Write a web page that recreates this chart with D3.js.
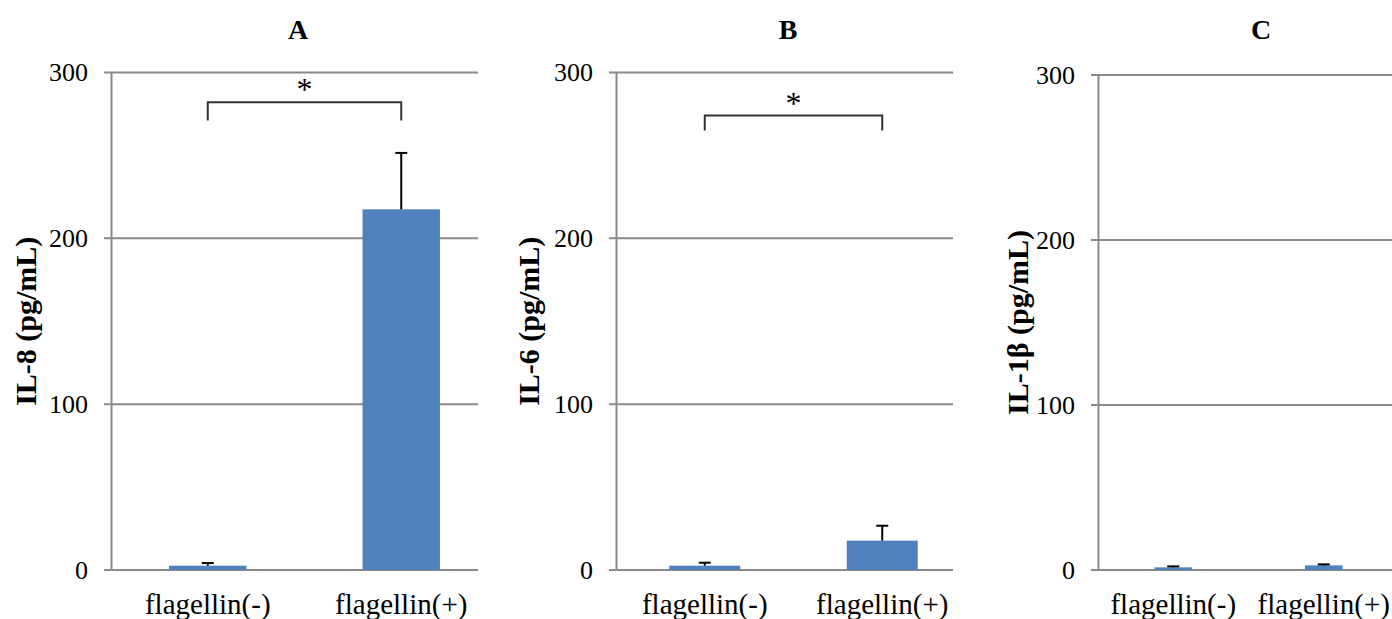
<!DOCTYPE html>
<html>
<head>
<meta charset="utf-8">
<script src="https://cdn.jsdelivr.net/npm/d3@7"></script>
<style>
  body { margin: 0; background: #fff; }
  svg text { font-family: "Times New Roman", "Liberation Serif", serif; fill: #000; }
</style>
</head>
<body>
<svg id="chart" width="1392" height="619"></svg>
<script>
// data
const categories = ["flagellin(-)", "flagellin(+)"];
const panelTitles = ["A", "B", "C"];
const yLabels = ["IL-8 (pg/mL)", "IL-6 (pg/mL)", "IL-1β (pg/mL)"];
const yTicks = [0, 100, 200, 300];

const il8Means = [2.6, 217.5];
const il8Errors = [1.6, 34];
const il6Means = [2.6, 17.7];
const il6Errors = [1.8, 9];
const il1bMeans = [1.6, 2.8];
const il1bErrors = [0.6, 0.6];

// significance bracket: [bar level, leg end]
const sigA = [282, 271];
const sigB = [274, 265];

const panels = [
  { title: panelTitles[0], ylab: yLabels[0], means: il8Means, errs: il8Errors, sig: sigA,
    x0: 111, gridR: 478, bandR: 498, top: 72.5, titleX: 298, barPad: 0.6, labX: 36 },
  { title: panelTitles[1], ylab: yLabels[1], means: il6Means, errs: il6Errors, sig: sigB,
    x0: 616, gridR: 953, bandR: 971, top: 72.5, titleX: 788, barPad: 0.6, labX: 539 },
  { title: panelTitles[2], ylab: yLabels[2], means: il1bMeans, errs: il1bErrors, sig: null,
    x0: 1098, gridR: 1400, bandR: 1399, top: 75, titleX: 1261, barPad: 0.75, labX: 1028 }
];

const bottom = 570;
const gray = "#8a8a8a";
const svg = d3.select("#chart");

panels.forEach(p => {
  const g = svg.append("g");

  const y = d3.scaleLinear().domain([0, 300]).range([bottom, p.top]);
  const x = d3.scaleBand().domain(categories).range([p.x0, p.bandR])
    .paddingInner(p.barPad).paddingOuter(p.barPad / 2);

  // gridlines
  g.selectAll(".grid").data(yTicks).enter().append("line")
    .attr("x1", p.x0 - 7).attr("x2", p.gridR)
    .attr("y1", d => y(d)).attr("y2", d => y(d))
    .attr("stroke", gray).attr("stroke-width", 2);

  // y axis
  const yAxis = d3.axisLeft(y).tickValues(yTicks).tickSize(0).tickPadding(23);
  const ya = g.append("g").attr("transform", `translate(${p.x0},0)`).call(yAxis);
  ya.select(".domain").attr("stroke", gray).attr("stroke-width", 2);
  ya.selectAll("text").attr("font-size", 26).attr("font-family", "Times New Roman, Liberation Serif, serif");

  // x category labels
  const xAxis = d3.axisBottom(x).tickSize(0).tickPadding(23);
  const xa = g.append("g").attr("transform", `translate(0,${bottom})`).call(xAxis);
  xa.select(".domain").remove();
  xa.selectAll("text").attr("font-size", 29).attr("font-family", "Times New Roman, Liberation Serif, serif");

  // bars
  g.selectAll(".bar").data(categories).enter().append("rect")
    .attr("x", d => x(d))
    .attr("y", (d, i) => y(p.means[i]))
    .attr("width", x.bandwidth())
    .attr("height", (d, i) => bottom - y(p.means[i]))
    .attr("fill", "#4f81bd");

  // error bars (upper only)
  const cx = d => x(d) + x.bandwidth() / 2;
  g.selectAll(".err").data(categories).enter().append("line")
    .attr("x1", cx).attr("x2", cx)
    .attr("y1", (d, i) => y(p.means[i]))
    .attr("y2", (d, i) => y(p.means[i] + p.errs[i]))
    .attr("stroke", "#000").attr("stroke-width", 2);
  g.selectAll(".cap").data(categories).enter().append("line")
    .attr("x1", d => cx(d) - 6).attr("x2", d => cx(d) + 6)
    .attr("y1", (d, i) => y(p.means[i] + p.errs[i]))
    .attr("y2", (d, i) => y(p.means[i] + p.errs[i]))
    .attr("stroke", "#000").attr("stroke-width", 2);

  // significance bracket
  if (p.sig) {
    const xl = cx(categories[0]), xr = cx(categories[1]);
    g.append("path")
      .attr("d", `M${xl},${y(p.sig[1])}V${y(p.sig[0])}H${xr}V${y(p.sig[1])}`)
      .attr("fill", "none").attr("stroke", "#333").attr("stroke-width", 2);
    g.append("text")
      .attr("x", (xl + xr) / 2).attr("y", y(p.sig[0]) - 2)
      .attr("text-anchor", "middle").attr("font-size", 32)
      .text("*");
  }

  // title
  g.append("text")
    .attr("x", p.titleX).attr("y", 39)
    .attr("text-anchor", "middle").attr("font-size", 28).attr("font-weight", "bold")
    .text(p.title);

  // y label
  g.append("text")
    .attr("transform", `translate(${p.labX},${(bottom + p.top) / 2}) rotate(-90)`)
    .attr("text-anchor", "middle").attr("font-size", 30).attr("font-weight", "bold")
    .text(p.ylab);
});
</script>
</body>
</html>
